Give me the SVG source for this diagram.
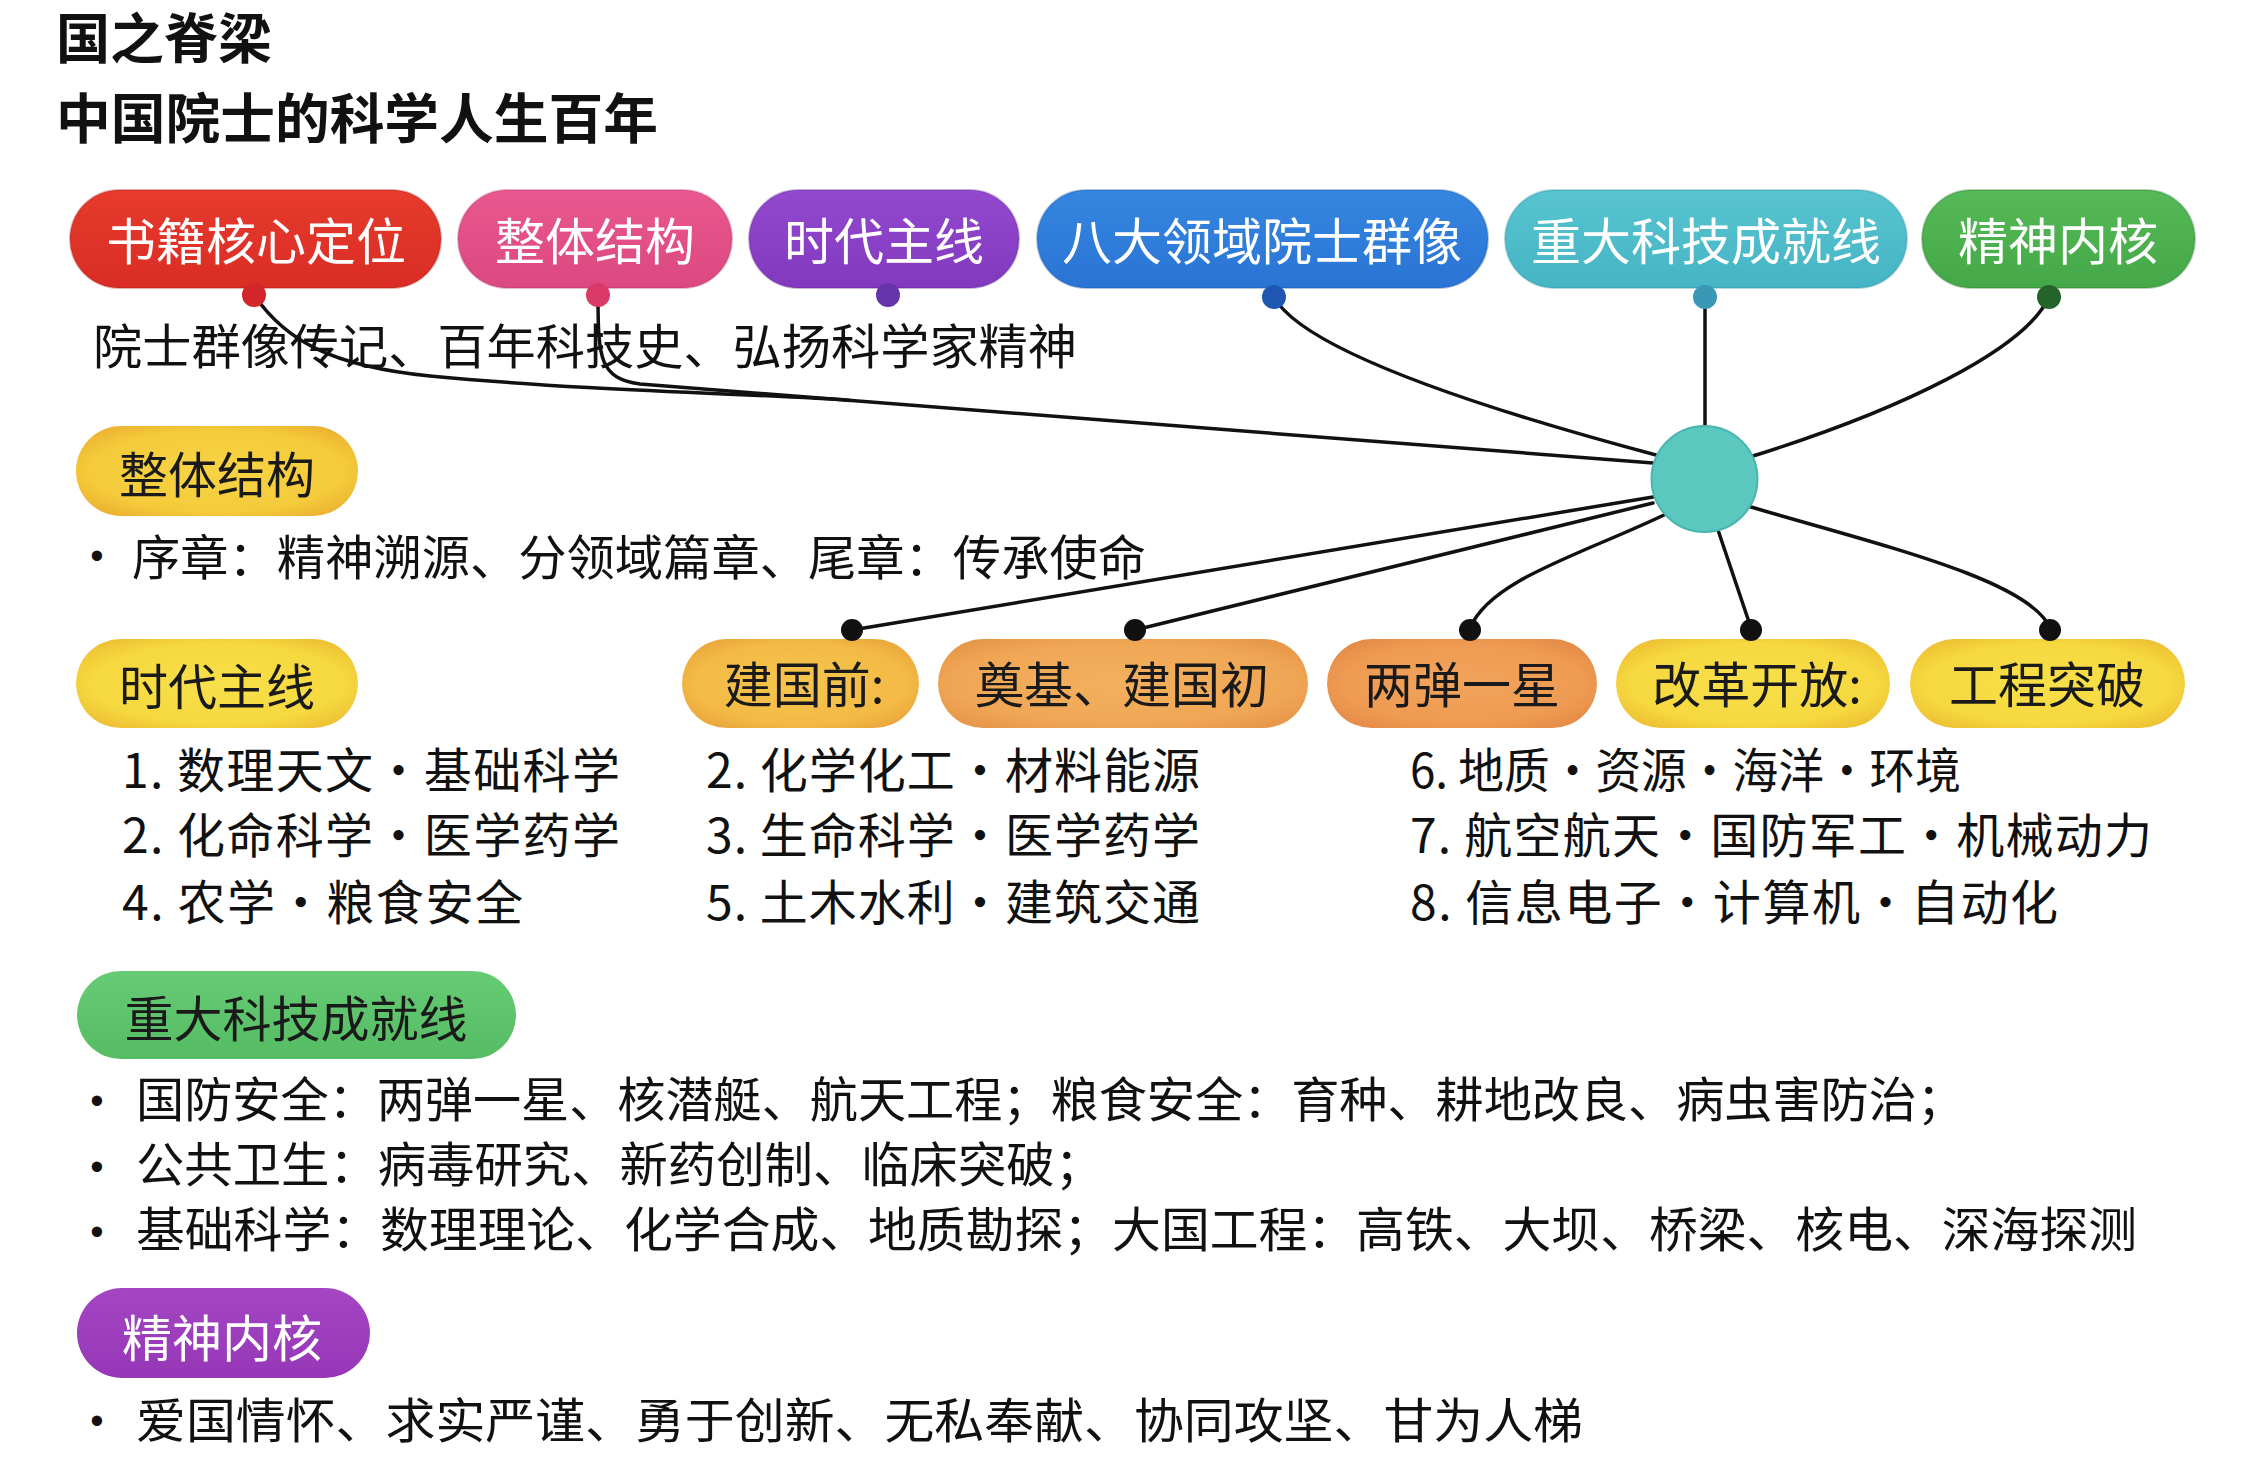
<svg xmlns="http://www.w3.org/2000/svg" width="2246" height="1473" viewBox="0 0 2246 1473">
<style>
text{font-family:"Noto Sans CJK SC","Noto Sans",sans-serif}
.title{font-size:54px;font-weight:700;fill:#111}
.pw{font-size:50px;fill:#fff;text-anchor:middle}
.pd{font-size:49px;fill:#1a1a1a;text-anchor:middle}
.body{font-size:48px;fill:#111}
.bul{font-family:"Liberation Sans",sans-serif;font-size:38px;fill:#111;text-anchor:middle}
.conn{fill:none;stroke:#111;stroke-width:3.5;stroke-linecap:round}
.edge{stroke-width:2;stroke-opacity:0.35}
</style>
<defs>
<linearGradient id="gRed" x1="0" y1="0" x2="0" y2="1"><stop offset="0" stop-color="#E83B2E"/><stop offset="1" stop-color="#D92C24"/></linearGradient>
<linearGradient id="gPink" x1="0" y1="0" x2="0" y2="1"><stop offset="0" stop-color="#E9588E"/><stop offset="1" stop-color="#DC4880"/></linearGradient>
<linearGradient id="gPurple" x1="0" y1="0" x2="0" y2="1"><stop offset="0" stop-color="#9249CF"/><stop offset="1" stop-color="#8239BE"/></linearGradient>
<linearGradient id="gBlue" x1="0" y1="0" x2="0" y2="1"><stop offset="0" stop-color="#3586E0"/><stop offset="1" stop-color="#2A74D4"/></linearGradient>
<linearGradient id="gTeal" x1="0" y1="0" x2="0" y2="1"><stop offset="0" stop-color="#58C4D0"/><stop offset="1" stop-color="#45B4C4"/></linearGradient>
<linearGradient id="gGreen" x1="0" y1="0" x2="0" y2="1"><stop offset="0" stop-color="#55B957"/><stop offset="1" stop-color="#45A848"/></linearGradient>
<radialGradient id="gYellow" cx="0.5" cy="0.5" r="0.6"><stop offset="0" stop-color="#F7D445"/><stop offset="0.75" stop-color="#F4CB3A"/><stop offset="1" stop-color="#EDB432"/></radialGradient>
<radialGradient id="gLemon" cx="0.5" cy="0.5" r="0.6"><stop offset="0" stop-color="#F8E04A"/><stop offset="0.75" stop-color="#F6D83F"/><stop offset="1" stop-color="#EEC235"/></radialGradient>
<radialGradient id="gAmber" cx="0.5" cy="0.5" r="0.6"><stop offset="0" stop-color="#F6C64E"/><stop offset="0.75" stop-color="#F3BA45"/><stop offset="1" stop-color="#EBA73C"/></radialGradient>
<radialGradient id="gOrange" cx="0.5" cy="0.5" r="0.6"><stop offset="0" stop-color="#F3B05E"/><stop offset="0.75" stop-color="#F0A755"/><stop offset="1" stop-color="#E8984A"/></radialGradient>
<radialGradient id="gOrange2" cx="0.5" cy="0.5" r="0.6"><stop offset="0" stop-color="#F2A45C"/><stop offset="0.75" stop-color="#EE9A52"/><stop offset="1" stop-color="#E58C48"/></radialGradient>
<linearGradient id="gLGreen" x1="0" y1="0" x2="0" y2="1"><stop offset="0" stop-color="#66CB74"/><stop offset="1" stop-color="#55BC64"/></linearGradient>
<linearGradient id="gViolet" x1="0" y1="0" x2="0" y2="1"><stop offset="0" stop-color="#A445C4"/><stop offset="1" stop-color="#9537B6"/></linearGradient>
</defs>
<rect width="2246" height="1473" fill="#fff"/>

<g id="title">
<text class="title" x="56" y="59" font-size="50" textLength="216" lengthAdjust="spacingAndGlyphs">国之脊梁</text>
<text class="title" x="56" y="139" textLength="602" lengthAdjust="spacingAndGlyphs">中国院士的科学人生百年</text>
</g>

<g id="connectors">
<path class="conn" d="M254,295 C285,340 330,366 430,376 C600,392 770,394 850,400.4"/>
<path class="conn" d="M598,295 C598,360 600,378 640,384 L1653,463"/>
<path class="conn" d="M1274,297 C1300,345 1450,400 1656,455"/>
<path class="conn" d="M1705,297 L1705,428"/>
<path class="conn" d="M2049,297 C2025,350 1900,410 1753,456"/>
<path class="conn" d="M1653,497 L852,630"/>
<path class="conn" d="M1653,503 L1135,630"/>
<path class="conn" d="M1664,515 C1580,555 1490,580 1470,628"/>
<path class="conn" d="M1718,530 L1751,628"/>
<path class="conn" d="M1751,507 C1880,545 2030,580 2050,628"/>
</g>

<g id="hub">
<circle cx="1704.5" cy="479" r="53" fill="#5BC8C0" stroke="#4AB5AE" stroke-width="2"/>
</g>

<g id="node-core">
<rect x="70" y="190" width="371" height="98" rx="49" fill="url(#gRed)" class="edge" stroke="#b01c18"/>
<text class="pw" x="256" y="260">书籍核心定位</text>
<circle cx="254" cy="295" r="12" fill="#D3262A"/>
</g>
<g id="node-structure">
<rect x="458" y="190" width="274" height="98" rx="49" fill="url(#gPink)" class="edge" stroke="#b8336a"/>
<text class="pw" x="595" y="260">整体结构</text>
<circle cx="598" cy="295" r="12" fill="#D93A68"/>
</g>
<g id="node-era">
<rect x="749" y="190" width="270" height="98" rx="49" fill="url(#gPurple)" class="edge" stroke="#5e2a96"/>
<text class="pw" x="884" y="260">时代主线</text>
<circle cx="888" cy="295" r="12" fill="#6534A8"/>
</g>
<g id="node-fields">
<rect x="1037" y="190" width="451" height="98" rx="49" fill="url(#gBlue)" class="edge" stroke="#1c58a8"/>
<text class="pw" x="1262" y="260">八大领域院士群像</text>
<circle cx="1274" cy="297" r="12" fill="#1F56B2"/>
</g>
<g id="node-achieve">
<rect x="1505" y="190" width="402" height="98" rx="49" fill="url(#gTeal)" class="edge" stroke="#2f93a3"/>
<text class="pw" x="1706" y="260">重大科技成就线</text>
<circle cx="1705" cy="297" r="12" fill="#3A97B5"/>
</g>
<g id="node-spirit">
<rect x="1922" y="190" width="273" height="98" rx="49" fill="url(#gGreen)" class="edge" stroke="#2f7f32"/>
<text class="pw" x="2058" y="260">精神内核</text>
<circle cx="2049" cy="297" r="12" fill="#24632A"/>
</g>

<g id="text-core">
<text class="body" x="93" y="364" font-size="50" textLength="984" lengthAdjust="spacingAndGlyphs">院士群像传记、百年科技史、弘扬科学家精神</text>
</g>

<g id="section-structure">
<rect x="76" y="426" width="282" height="90" rx="45" fill="url(#gYellow)"/>
<text class="pd" x="217" y="493">整体结构</text>
<text class="bul" x="97" y="569">•</text>
<text class="body" x="132" y="575" textLength="1014" lengthAdjust="spacingAndGlyphs">序章：精神溯源、分领域篇章、尾章：传承使命</text>
</g>

<g id="section-era">
<rect x="76" y="639" width="282" height="89" rx="44.5" fill="url(#gLemon)"/>
<text class="pd" x="217" y="705">时代主线</text>
</g>

<g id="node-pre">
<rect x="682" y="639" width="237" height="89" rx="44.5" fill="url(#gAmber)"/>
<text class="pd" x="804" y="703">建国前:</text>
<circle cx="852" cy="630" r="11" fill="#111"/>
</g>
<g id="node-found">
<rect x="938" y="639" width="370" height="89" rx="44.5" fill="url(#gOrange)"/>
<text class="pd" x="1122" y="703">奠基、建国初</text>
<circle cx="1135" cy="630" r="11" fill="#111"/>
</g>
<g id="node-bombs">
<rect x="1327" y="639" width="270" height="89" rx="44.5" fill="url(#gOrange2)"/>
<text class="pd" x="1462" y="703">两弹一星</text>
<circle cx="1470" cy="630" r="11" fill="#111"/>
</g>
<g id="node-reform">
<rect x="1616" y="639" width="274" height="89" rx="44.5" fill="url(#gLemon)"/>
<text class="pd" x="1757" y="703">改革开放:</text>
<circle cx="1751" cy="630" r="11" fill="#111"/>
</g>
<g id="node-engineering">
<rect x="1910" y="639" width="275" height="89" rx="44.5" fill="url(#gLemon)"/>
<text class="pd" x="2047" y="703">工程突破</text>
<circle cx="2050" cy="630" r="11" fill="#111"/>
</g>

<g id="fields-list">
<text class="body" x="122" y="788" textLength="498" lengthAdjust="spacing">1. 数理天文·基础科学</text>
<text class="body" x="122" y="853" textLength="498" lengthAdjust="spacing">2. 化命科学·医学药学</text>
<text class="body" x="122" y="920" textLength="401" lengthAdjust="spacing">4. 农学·粮食安全</text>
<text class="body" x="706" y="788" textLength="494" lengthAdjust="spacing">2. 化学化工·材料能源</text>
<text class="body" x="706" y="853" textLength="494" lengthAdjust="spacing">3. 生命科学·医学药学</text>
<text class="body" x="706" y="920" textLength="494" lengthAdjust="spacing">5. 土木水利·建筑交通</text>
<text class="body" x="1410" y="788" textLength="551" lengthAdjust="spacingAndGlyphs">6. 地质·资源·海洋·环境</text>
<text class="body" x="1410" y="853" textLength="742" lengthAdjust="spacing">7. 航空航天·国防军工·机械动力</text>
<text class="body" x="1410" y="920" textLength="648" lengthAdjust="spacing">8. 信息电子·计算机·自动化</text>
</g>

<g id="section-achieve">
<rect x="77" y="971" width="439" height="88" rx="44" fill="url(#gLGreen)"/>
<text class="pd" x="296" y="1037" font-size="50">重大科技成就线</text>
<text class="bul" x="97" y="1114">•</text>
<text class="body" x="136" y="1117" textLength="1829" lengthAdjust="spacingAndGlyphs">国防安全：两弹一星、核潜艇、航天工程；粮食安全：育种、耕地改良、病虫害防治；</text>
<text class="bul" x="97" y="1180">•</text>
<text class="body" x="136" y="1182" textLength="967" lengthAdjust="spacingAndGlyphs">公共卫生：病毒研究、新药创制、临床突破；</text>
<text class="bul" x="97" y="1245">•</text>
<text class="body" x="136" y="1247" textLength="2001" lengthAdjust="spacingAndGlyphs">基础科学：数理理论、化学合成、地质勘探；大国工程：高铁、大坝、桥梁、核电、深海探测</text>
</g>

<g id="section-spirit">
<rect x="77" y="1288" width="293" height="90" rx="45" fill="url(#gViolet)"/>
<text class="pw" x="222" y="1357">精神内核</text>
<text class="bul" x="97" y="1434">•</text>
<text class="body" x="136" y="1438" textLength="1447" lengthAdjust="spacingAndGlyphs">爱国情怀、求实严谨、勇于创新、无私奉献、协同攻坚、甘为人梯</text>
</g>
</svg>
